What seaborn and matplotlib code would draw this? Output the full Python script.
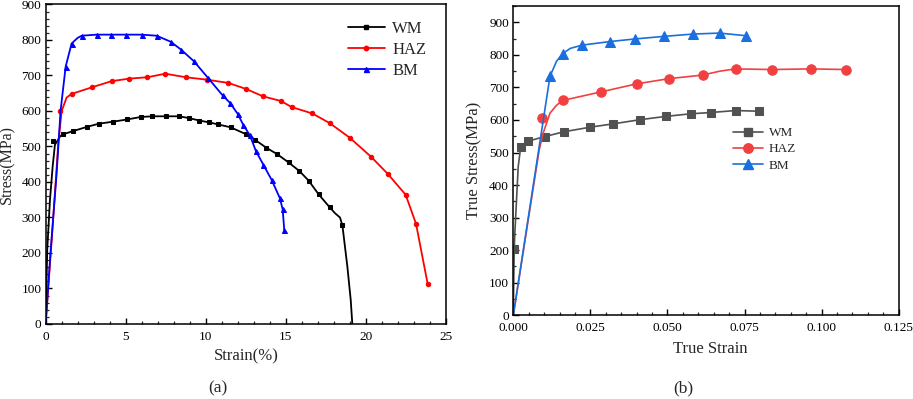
import seaborn as sns
import matplotlib.pyplot as plt
from matplotlib.lines import Line2D
from matplotlib.ticker import MultipleLocator, FormatStrFormatter

# ---- (a) engineering stress-strain ----
# marker points
wm_a_x = [0.48, 1.06, 1.69, 2.56, 3.31, 4.23, 5.08, 5.93, 6.66, 7.49, 8.33, 8.95, 9.6, 10.2,
          10.78, 11.55, 12.49, 13.1, 13.76, 14.47, 15.17, 15.84, 16.42, 17.05, 17.73, 18.53]
wm_a_y = [515, 534, 543, 555, 564, 570, 576, 583, 585, 585, 585, 580, 573, 568,
          562, 554, 535, 518, 497, 478, 455, 431, 404, 365, 329, 278]
haz_a_x = [0.92, 1.62, 2.91, 4.12, 5.2, 6.35, 7.47, 8.76, 10.1, 11.41, 12.51, 13.59, 14.7,
           15.36, 16.65, 17.73, 18.98, 20.32, 21.36, 22.48, 23.13, 23.85]
haz_a_y = [600, 648, 667, 684, 691, 695, 705, 695, 688, 679, 662, 641, 628,
           611, 593, 566, 525, 471, 423, 364, 282, 114]
bm_a_x = [1.25, 1.62, 2.25, 3.18, 4.06, 5.02, 5.99, 6.93, 7.81, 8.45, 9.26, 10.16, 11.05,
          11.51, 11.99, 12.34, 12.76, 13.13, 13.59, 14.11, 14.63, 14.8, 14.9]
bm_a_y = [725, 790, 812, 815, 815, 815, 815, 812, 795, 773, 740, 692, 644,
          623, 592, 561, 531, 487, 449, 406, 354, 323, 265]

# curve points
wm_a_cx = [0, 0.1, 0.27, 0.44, 0.58, 0.9] + wm_a_x[1:-1] + [18.07, 18.38, 18.53, 18.84, 19.05, 19.15]
wm_a_cy = [0, 210, 350, 445, 505, 528] + wm_a_y[1:-1] + [312, 300, 278, 162, 68, 0]
haz_a_cx = [0, 0.4, 0.79, 1.0, 1.31] + haz_a_x[1:]
haz_a_cy = [0, 250, 510, 600, 638] + haz_a_y[1:]
bm_a_cx = [0, 0.3, 0.68, 0.93] + bm_a_x[:2] + [2.0] + bm_a_x[2:]
bm_a_cy = [0, 200, 420, 600] + bm_a_y[:2] + [806] + bm_a_y[2:]

# ---- (b) true stress-strain ----
wm_b_x = [0.0003, 0.0024, 0.0048, 0.0102, 0.0165, 0.025, 0.0323, 0.0412, 0.0494, 0.0575,
          0.0641, 0.0721, 0.0796]
wm_b_y = [203, 517, 535, 549, 564, 578, 588, 601, 611, 619, 623, 629, 627]
haz_b_x = [0.0094, 0.016, 0.0283, 0.04, 0.0505, 0.0614, 0.0721, 0.0839, 0.0965, 0.108]
haz_b_y = [605, 660, 686, 711, 727, 738, 757, 755, 757, 755]
bm_b_x = [0.0119, 0.016, 0.0223, 0.0314, 0.0395, 0.049, 0.0583, 0.0669, 0.0754]
bm_b_y = [734, 804, 830, 841, 849, 857, 864, 867, 859]

wm_b_cx = [0, 0.0003, 0.0005, 0.0016, 0.0024, 0.0043] + wm_b_x[2:]
wm_b_cy = [0, 203, 252, 457, 517, 532] + wm_b_y[2:]
haz_b_cx = [0, 0.0084, 0.0097, 0.0119, 0.014] + haz_b_x[1:6] + [0.067] + haz_b_x[6:]
haz_b_cy = [0, 508, 560, 621, 645] + haz_b_y[1:6] + [750] + haz_b_y[6:]
bm_b_cx = [0, 0.0119, 0.014, 0.016, 0.0185] + bm_b_x[2:]
bm_b_cy = [0, 734, 780, 804, 820] + bm_b_y[2:]

labels = ["WM", "HAZ", "BM"]

sns.set_theme(style="ticks", rc={"xtick.direction": "in", "ytick.direction": "in",
                                 "axes.linewidth": 1.1})
plt.rcParams['font.family'] = ['Liberation Serif', 'DejaVu Serif']

fig = plt.figure(figsize=(9.13, 3.99), dpi=100)
ax1 = fig.add_axes([0.050, 0.188, 0.4385, 0.8008])
ax2 = fig.add_axes([0.5622, 0.2098, 0.4221, 0.775])


def draw(ax, cx, cy, mx, my, color, marker, ms, lw):
    sns.lineplot(x=cx, y=cy, ax=ax, color=color, lw=lw, sort=False, estimator=None)
    sns.lineplot(x=mx, y=my, ax=ax, color=color, marker=marker, markersize=ms,
                 markeredgecolor=color, linestyle="", sort=False, estimator=None)


# panel (a)
cols_a = ["black", "#ff0000", "#0000ff"]
marks_a = ["s", "o", "^"]
ms_a = [2.6, 3.2, 3.6]
draw(ax1, wm_a_cx, wm_a_cy, wm_a_x, wm_a_y, cols_a[0], "s", ms_a[0], 1.3)
draw(ax1, haz_a_cx, haz_a_cy, haz_a_x, haz_a_y, cols_a[1], "o", ms_a[1], 1.3)
draw(ax1, bm_a_cx, bm_a_cy, bm_a_x, bm_a_y, cols_a[2], "^", ms_a[2], 1.3)

ax1.set_xlim(0, 25)
ax1.set_ylim(0, 900)
ax1.xaxis.set_major_locator(MultipleLocator(5))
ax1.xaxis.set_minor_locator(MultipleLocator(1))
ax1.yaxis.set_major_locator(MultipleLocator(100))
ax1.yaxis.set_minor_locator(MultipleLocator(20))
ax1.set_xlabel("Strain(%)", fontsize=12)
ax1.set_ylabel("Stress(MPa)", fontsize=11.5)
ax1.xaxis.set_label_coords(0.5, -0.075)
ax1.yaxis.set_label_coords(-0.076, 0.5)
h_a = [Line2D([], [], color=c, marker=m, ms=s, lw=1.3) for c, m, s in zip(cols_a, marks_a, ms_a)]
ax1.legend(h_a, labels, loc="upper left", bbox_to_anchor=(348 / 913, 1 - 21 / 399),
           bbox_transform=fig.transFigure, frameon=False, fontsize=12, borderpad=0,
           handlelength=2.2, handletextpad=0.45, labelspacing=0.3, borderaxespad=0)

# panel (b)
cols_b = ["#515151", "#f14040", "#1a6fdf"]
marks_b = ["s", "o", "^"]
ms_b = [6.0, 6.8, 7.2]
draw(ax2, wm_b_cx, wm_b_cy, wm_b_x, wm_b_y, cols_b[0], "s", ms_b[0], 1.2)
draw(ax2, haz_b_cx, haz_b_cy, haz_b_x, haz_b_y, cols_b[1], "o", ms_b[1], 1.2)
draw(ax2, bm_b_cx, bm_b_cy, bm_b_x, bm_b_y, cols_b[2], "^", ms_b[2], 1.2)

ax2.set_xlim(0, 0.125)
ax2.set_ylim(0, 950)
ax2.xaxis.set_major_locator(MultipleLocator(0.025))
ax2.xaxis.set_minor_locator(MultipleLocator(0.005))
ax2.xaxis.set_major_formatter(FormatStrFormatter("%.3f"))
ax2.yaxis.set_major_locator(MultipleLocator(100))
ax2.yaxis.set_minor_locator(MultipleLocator(50))
ax2.set_xlabel("True Strain", fontsize=12)
ax2.set_ylabel("True Stress(MPa)", fontsize=12)
ax2.xaxis.set_label_coords(0.51, -0.083)
ax2.yaxis.set_label_coords(-0.079, 0.5)
h_b = [Line2D([], [], color=c, marker=m, ms=s, lw=1.2) for c, m, s in zip(cols_b, marks_b, ms_b)]
ax2.legend(h_b, labels, loc="upper left", bbox_to_anchor=(733 / 913, 1 - 127 / 399),
           bbox_transform=fig.transFigure, frameon=False, fontsize=9.5, borderpad=0,
           handlelength=2.3, handletextpad=0.4, labelspacing=0.3, borderaxespad=0)

for ax in (ax1, ax2):
    ax.tick_params(which="major", length=4, width=1.0, labelsize=9.5, pad=3, colors="black")
    ax.tick_params(axis="x", which="major", pad=5)
    ax.tick_params(which="minor", length=2.2, width=0.9)
    for sp in ax.spines.values():
        sp.set_visible(True)
        sp.set_color("black")
        sp.set_linewidth(1.1)

fig.text(218 / 913, 1 - 388 / 399, "(a)", ha="center", va="center", fontsize=12.5)
fig.text(683 / 913, 1 - 388 / 399, "(b)", ha="center", va="center", fontsize=12.5)

fig.savefig("out.png", dpi=100)
